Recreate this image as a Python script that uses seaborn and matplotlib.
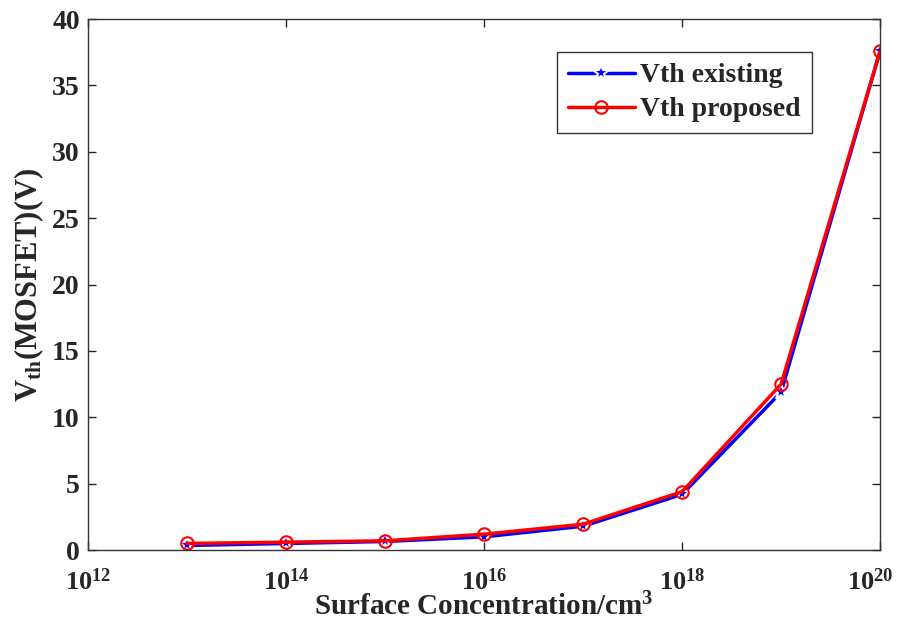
import numpy as np
import pandas as pd
import matplotlib
matplotlib.use("Agg")
import matplotlib.pyplot as plt
import matplotlib.transforms as mtransforms
import seaborn as sns

# surface concentration (cm^-3) and threshold voltages
conc = [1e13, 1e14, 1e15, 1e16, 1e17, 1e18, 1e19, 1e20]
vth_existing = [0.35, 0.5, 0.65, 1.0, 1.8, 4.2, 11.9, 37.6]
vth_proposed = [0.5, 0.6, 0.7, 1.2, 1.95, 4.4, 12.5, 37.6]
series = ["Vth existing", "Vth proposed"]

df = pd.DataFrame({
    "conc": conc * 2,
    "vth": vth_existing + vth_proposed,
    "series": [series[0]] * len(conc) + [series[1]] * len(conc),
})

sns.set_style("ticks")
plt.rcParams["font.family"] = ["Liberation Serif", "DejaVu Serif"]
plt.rcParams["font.weight"] = "bold"
plt.rcParams["mathtext.fontset"] = "custom"
plt.rcParams["mathtext.rm"] = "Liberation Serif:bold"
plt.rcParams["mathtext.bf"] = "Liberation Serif:bold"
plt.rcParams["mathtext.it"] = "Liberation Serif:bold"

fig = plt.figure(figsize=(8.99, 6.23), dpi=100)
ax = fig.add_axes([0.098, 0.117, 0.881, 0.8525])

sns.lineplot(data=df, x="conc", y="vth", hue="series", style="series",
             palette={series[0]: "#0000ff", series[1]: "#ff0000"},
             markers={series[0]: "*", series[1]: "o"}, dashes=False,
             linewidth=2.5, markersize=9, markeredgewidth=1.5,
             ax=ax)

# open circles for proposed, bigger stars for existing
for ln in ax.get_lines():
    if ln.get_marker() == "o":
        ln.set_markerfacecolor("none")
        ln.set_markeredgecolor("#ff0000")
    elif ln.get_marker() == "*":
        ln.set_markersize(12)

ax.set_xscale("log")
ax.set_xlim(1e12, 1e20)
ax.set_ylim(0, 40)
ax.set_xticks([1e12, 1e14, 1e16, 1e18, 1e20])
ax.xaxis.set_minor_locator(matplotlib.ticker.NullLocator())
ax.set_yticks(range(0, 41, 5))
ax.tick_params(direction="in", top=True, right=True, length=6,
               labelsize=20, width=1)
ax.tick_params(axis="x", pad=13, labelsize=19)
ax.tick_params(axis="y", pad=6)
for lab in ax.get_xticklabels() + ax.get_yticklabels():
    lab.set_fontweight("bold")
# keep the last decade label inside the picture
last = ax.get_xticklabels()[-1]
last.set_transform(last.get_transform() +
                   mtransforms.ScaledTranslation(-10 / 100, 0, fig.dpi_scale_trans))
for sp in ax.spines.values():
    sp.set_linewidth(1)
    sp.set_color("#333333")

ax.set_xlabel(r"Surface Concentration/cm$^3$", fontsize=21, fontweight="bold",
              labelpad=-1)
ax.set_ylabel(r"V$_{\mathrm{th}}$(MOSFET)(V)", fontsize=22, fontweight="bold",
              labelpad=4)

leg = ax.legend(loc="upper right", bbox_to_anchor=(0.914, 0.938),
                borderaxespad=0,
                fontsize=20, frameon=True, fancybox=False, framealpha=1,
                handlelength=2.4, borderpad=0.4, labelspacing=0.3,
                handletextpad=0.2)
leg.get_frame().set_edgecolor("#333333")
leg.get_frame().set_linewidth(1)
for t in leg.get_texts():
    t.set_fontweight("bold")

fig.savefig("out.png", dpi=100)
